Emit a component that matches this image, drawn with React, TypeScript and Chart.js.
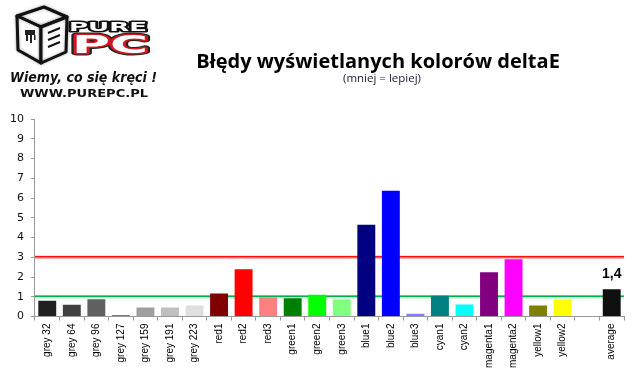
import React, { useEffect, useRef } from "react";
import { Chart, registerables } from "chart.js";

Chart.register(...registerables);

const categories = [
  "grey 32", "grey 64", "grey 96", "grey 127", "grey 159", "grey 191", "grey 223",
  "red1", "red2", "red3", "green1", "green2", "green3", "blue1", "blue2", "blue3",
  "cyan1", "cyan2", "magenta1", "magenta2", "yellow1", "yellow2", "", "average",
];

const deltaE: (number | null)[] = [
  0.8, 0.6, 0.87, 0.08, 0.46, 0.46, 0.56,
  1.16, 2.39, 0.97, 0.92, 1.1, 0.87, 4.64, 6.37, 0.14,
  1.05, 0.61, 2.24, 2.9, 0.56, 0.87, null, 1.38,
];

const barColors = [
  "#202020", "#404040", "#606060", "#7f7f7f", "#9f9f9f", "#bfbfbf", "#dfdfdf",
  "#800000", "#ff0000", "#ff8080", "#008000", "#00ff00", "#80ff80",
  "#000080", "#0000ff", "#8080ff", "#008080", "#00ffff", "#800080", "#ff00ff",
  "#808000", "#ffff00", "#ffffff", "#101010",
];

const yMin = 0;
const yMax = 10;
const yStep = 1;

const referenceValues = [3, 1];
const referenceColors = ["#ff1010", "#00b050"];
const referenceGlows = ["#ffb8b8", "#b8ecc6"];

const titleText = "Błędy wyświetlanych kolorów deltaE";
const subtitleText = "(mniej = lepiej)";
const averageLabel = "1,4";
const averageIndex = 23;

function fitText(ctx: CanvasRenderingContext2D, text: string, x: number, y: number, width: number, draw: (t: string) => void) {
  const w = ctx.measureText(text).width;
  ctx.save();
  ctx.translate(x, y);
  ctx.scale(width / w, 1);
  draw(text);
  ctx.restore();
}

function drawLogo(ctx: CanvasRenderingContext2D) {
  ctx.save();
  ctx.lineJoin = "round";
  ctx.shadowColor = "rgba(0,0,0,0.35)";
  ctx.shadowBlur = 3;
  ctx.fillStyle = "#ffffff";
  ctx.strokeStyle = "#111";
  ctx.lineWidth = 3;
  const top = [[17, 16], [44, 7], [67, 17], [41, 27]];
  const front = [[17, 16], [41, 27], [41, 63], [18, 50]];
  const side = [[41, 27], [67, 17], [66, 52], [41, 63]];
  for (const face of [top, front, side]) {
    ctx.beginPath();
    face.forEach((p, i) => (i ? ctx.lineTo(p[0], p[1]) : ctx.moveTo(p[0], p[1])));
    ctx.closePath();
    ctx.fill();
    ctx.stroke();
  }
  ctx.shadowBlur = 0;
  ctx.fillStyle = "#222";
  ctx.fillRect(25, 30, 10, 5);
  ctx.fillRect(26, 35, 2, 6);
  ctx.fillRect(30, 35, 2, 8);
  ctx.fillRect(34, 35, 1.5, 5);
  ctx.lineWidth = 2;
  ctx.beginPath();
  ctx.moveTo(48, 33); ctx.lineTo(60, 28);
  ctx.moveTo(48, 40); ctx.lineTo(60, 35);
  ctx.moveTo(48, 47); ctx.lineTo(60, 42);
  ctx.stroke();

  ctx.font = 'bold 13px "DejaVu Sans"';
  ctx.textBaseline = "alphabetic";
  ctx.textAlign = "left";
  fitText(ctx, "PURE", 69, 31, 78, (t) => {
    ctx.lineWidth = 3;
    ctx.strokeStyle = "#111";
    ctx.strokeText(t, 0, 0);
    ctx.fillStyle = "#fff";
    ctx.fillText(t, 0, 0);
  });
  ctx.font = 'bold 24px "DejaVu Sans"';
  fitText(ctx, "PC", 72, 53, 76, (t) => {
    ctx.lineWidth = 5;
    ctx.strokeStyle = "#222";
    ctx.strokeText(t, 0, 0);
    ctx.lineWidth = 3;
    ctx.strokeStyle = "#d01820";
    ctx.strokeText(t, 0, 0);
    ctx.fillStyle = "#fff";
    ctx.fillText(t, 0, 0);
  });
  ctx.font = 'bold italic 14px "DejaVu Sans"';
  fitText(ctx, "Wiemy, co się kręci !", 10, 82, 147, (t) => {
    ctx.lineWidth = 3;
    ctx.strokeStyle = "#fff";
    ctx.strokeText(t, 0, 0);
    ctx.fillStyle = "#111";
    ctx.fillText(t, 0, 0);
  });
  ctx.font = 'bold 10px "DejaVu Sans"';
  fitText(ctx, "WWW.PUREPC.PL", 20, 97, 128, (t) => {
    ctx.fillStyle = "#111";
    ctx.fillText(t, 0, 0);
  });
  ctx.restore();
}

const decorPlugin = {
  id: "decor",
  beforeDatasetsDraw(chart: any) {
    const { ctx, chartArea, scales } = chart;
    ctx.save();
    referenceValues.forEach((v, i) => {
      const y = scales.y.getPixelForValue(v);
      ctx.strokeStyle = referenceGlows[i];
      ctx.lineWidth = 3.5;
      ctx.beginPath();
      ctx.moveTo(chartArea.left, y);
      ctx.lineTo(chartArea.right, y);
      ctx.stroke();
      ctx.strokeStyle = referenceColors[i];
      ctx.lineWidth = 1.5;
      ctx.beginPath();
      ctx.moveTo(chartArea.left, y - 0.5);
      ctx.lineTo(chartArea.right, y - 0.5);
      ctx.stroke();
    });
    ctx.restore();
  },
  afterDatasetsDraw(chart: any) {
    const { ctx } = chart;
    const el = chart.getDatasetMeta(0).data[averageIndex];
    if (el) {
      ctx.save();
      ctx.font = 'bold 14px "Liberation Sans"';
      ctx.fillStyle = "#000";
      ctx.textAlign = "center";
      ctx.textBaseline = "alphabetic";
      ctx.fillText(averageLabel, el.x, el.y - 11);
      ctx.restore();
    }
  },
  afterDraw(chart: any) {
    const { ctx } = chart;
    ctx.save();
    ctx.textAlign = "center";
    ctx.textBaseline = "alphabetic";
    ctx.fillStyle = "#000";
    ctx.font = 'bold 20px "Open Sans"';
    ctx.fillText(titleText, 378, 68);
    ctx.font = '11.5px "Open Sans"';
    ctx.fillStyle = "#1c1838";
    ctx.fillText(subtitleText, 382, 82);
    drawLogo(ctx);
    ctx.restore();
  },
};

export default function App() {
  const ref = useRef<HTMLCanvasElement>(null);
  useEffect(() => {
    document.body.style.margin = "0";
    const chart = new Chart(ref.current!, {
      type: "bar",
      data: {
        labels: categories,
        datasets: [
          {
            data: deltaE,
            backgroundColor: barColors,
            borderWidth: 0,
            categoryPercentage: 1,
            barPercentage: 0.73,
          },
        ],
      },
      options: {
        animation: false,
        responsive: false,
        maintainAspectRatio: false,
        layout: { padding: { top: 119, left: 3, right: 15, bottom: 8 } },
        plugins: {
          legend: { display: false },
          tooltip: { enabled: false },
          title: { display: false },
        },
        scales: {
          x: {
            grid: { drawOnChartArea: false, drawTicks: true, tickLength: 4, color: "#999" },
            border: { color: "#999" },
            ticks: {
              autoSkip: false,
              minRotation: 90,
              maxRotation: 90,
              padding: 3,
              color: "#000",
              font: { family: '"Liberation Sans"', size: 10 },
            },
          },
          y: {
            min: yMin,
            max: yMax,
            grid: { drawOnChartArea: false, drawTicks: true, tickLength: 4, color: "#999" },
            border: { color: "#999" },
            ticks: {
              stepSize: yStep,
              padding: 7,
              color: "#111",
              font: { family: '"DejaVu Sans"', size: 11 },
            },
          },
        },
      },
      plugins: [decorPlugin],
    });
    return () => chart.destroy();
  }, []);
  return (
    <div style={{ position: "absolute", left: 0, top: 0, width: 639, height: 379 }}>
      <canvas ref={ref} width={639} height={379} style={{ display: "block" }} />
    </div>
  );
}
